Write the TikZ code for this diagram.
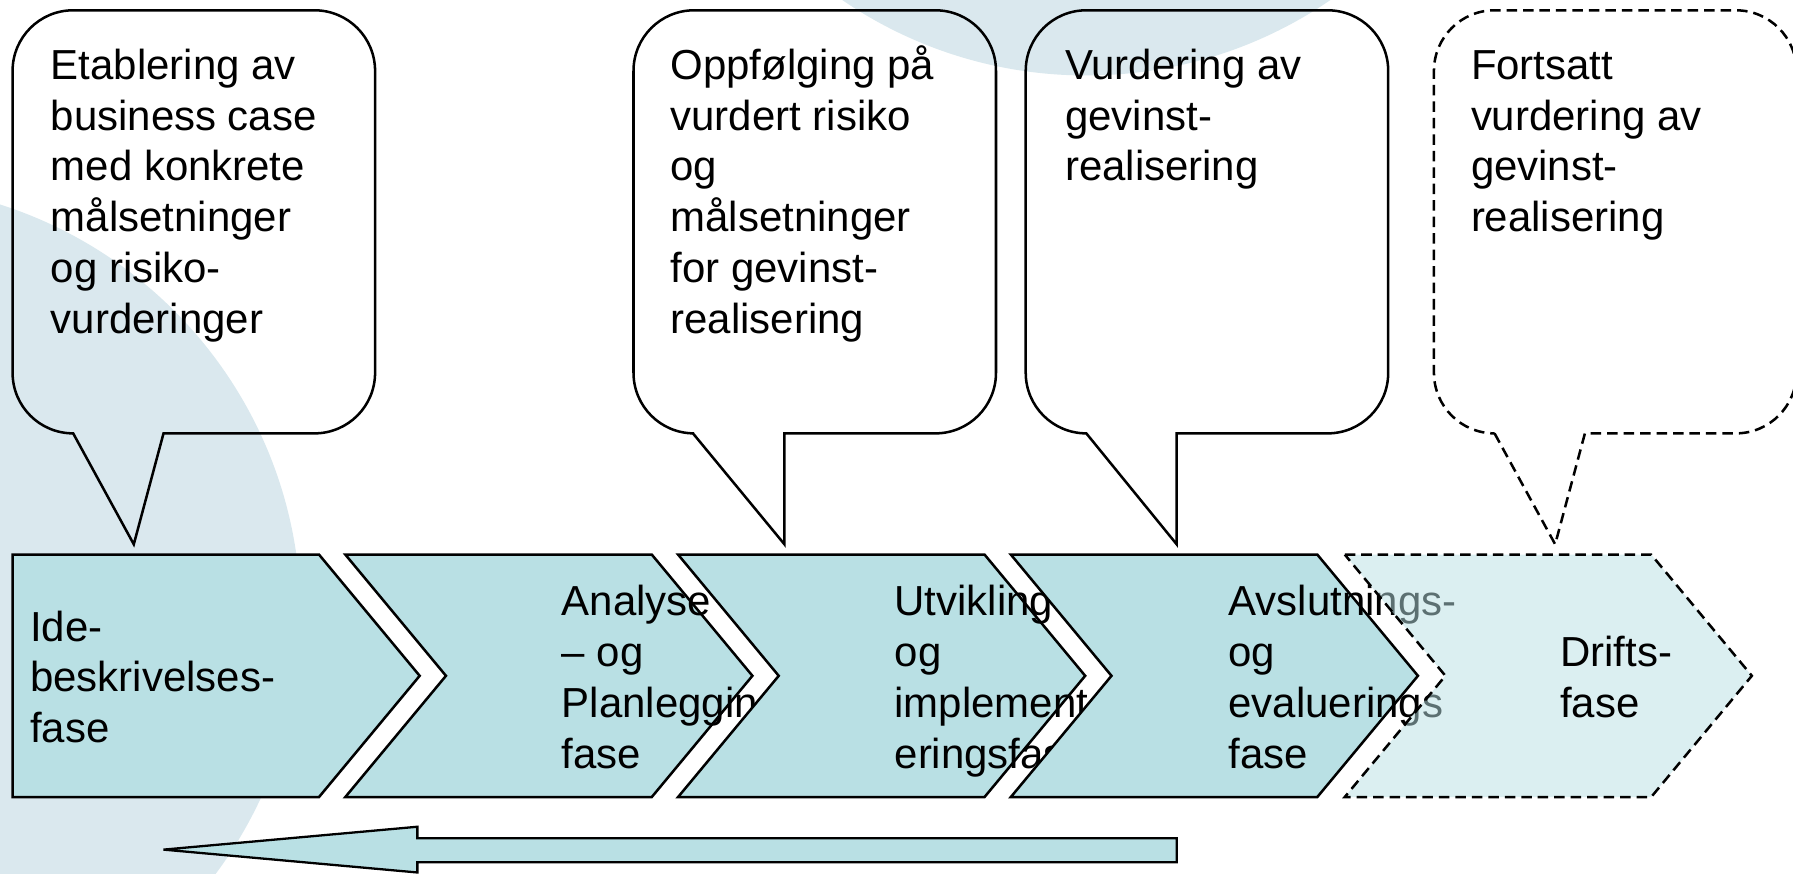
\documentclass[tikz,border=0pt]{standalone}
\usepackage{fontspec}
\setmainfont{Liberation Sans}

\definecolor{circlebg}{RGB}{218,232,238}
\definecolor{phasefill}{RGB}{185,224,228}

\tikzset{
  phase/.style={draw=black, line width=1.1pt, fill=phasefill},
  bubble/.style={draw=black, line width=1.1pt},
  futuredash/.style={dash pattern=on 4.6pt off 2.6pt},
  phasetext/.style={anchor=west, align=left, inner sep=0pt,
    font=\fontsize{18.35}{22.2}\selectfont, execute at end node=\strut},
  bubbletext/.style={anchor=north west, align=left, inner sep=0pt,
    font=\fontsize{18.35}{22.2}\selectfont}
}

\begin{document}
\begin{tikzpicture}[x=0.5pt,y=-0.5pt]

      \useasboundingbox (0,0) rectangle (1568,763.5);
      \clip (0,0) rectangle (1568,763.5);
      \fill[white] (0,0) rectangle (1568,763.5);

      % background
      \fill[circlebg] (-115,539) circle[radius=378];
      \fill[circlebg] (950,-312) circle[radius=378];

      % callouts
      \foreach \l/\a/\t/\b/\s in {11/64/117/143/solid, 554/606/686/686/solid,
                                  897/950/1029/1029/solid, 1254/1307/1360/1386/futuredash}
        \draw[bubble,\s] (\a,379) -- (\t,476) -- (\b,379) -- (\l+264,379)
          .. controls (\l+293.3,379) and (\l+317,355.3) .. (\l+317,326) -- (\l+317,62)
          .. controls (\l+317,32.7) and (\l+293.3,9) .. (\l+264,9) -- (\l+53,9)
          .. controls (\l+23.7,9) and (\l,32.7) .. (\l,62) -- (\l,326)
          .. controls (\l,355.3) and (\l+23.7,379) .. (\l+53,379) -- cycle;

      \node[bubbletext] (etablering) at (44,38)  {\strut Etablering av\\business case\\med konkrete\\målsetninger\\og risiko-\\vurderinger};
      \node[bubbletext] (oppfolging) at (586,38) {\strut Oppfølging på\\vurdert risiko\\og\\målsetninger\\for gevinst-\\realisering};
      \node[bubbletext] (vurdering)  at (931,38) {\strut Vurdering av\\gevinst-\\realisering};
      \node[bubbletext] (fortsatt)   at (1286,38) {\strut Fortsatt\\vurdering av\\gevinst-\\realisering};

      % phases
      \fill[white] (11,485) rectangle (1532,697);

      \draw[phase] (11,485) -- (279,485) -- (367,591) -- (279,697) -- (11,697) -- cycle;
      \node[phasetext] (ide) at (26,596.2) {\strut Ide-\\beskrivelses-\\fase};

      \draw[phase] (302,485) -- (570,485) -- (658,591) -- (570,697) -- (302,697) -- (390,591) -- cycle;
      \node[phasetext] (analyse) at (491,596.2) {\strut Analyse\\– og\\Planlegging\\fase};

      \draw[phase] (593,485) -- (861,485) -- (949,591) -- (861,697) -- (593,697) -- (681,591) -- cycle;
      \node[phasetext] (utvikling) at (782,596.2) {\strut Utvikling\\og\\implement\\eringsfase};

      \draw[phase] (884,485) -- (1152,485) -- (1240,591) -- (1152,697) -- (884,697) -- (972,591) -- cycle;
      \node[phasetext] (avslutning) at (1074,596.2) {\strut Avslutnings-\\og\\evaluerings\\fase};

      \draw[phase, futuredash, fill opacity=0.5] (1176,485) -- (1444,485) -- (1532,591) -- (1444,697) -- (1176,697) -- (1264,591) -- cycle;
      \node[phasetext] (drift) at (1364,596.2) {\strut Drifts-\\fase};

      % feedback arrow
      \draw[phase, line width=1pt] (1029,733) -- (365,733) -- (365,723) -- (143,743)
        -- (365,763) -- (365,754) -- (1029,754) -- cycle;

    \end{tikzpicture}
\end{document}
